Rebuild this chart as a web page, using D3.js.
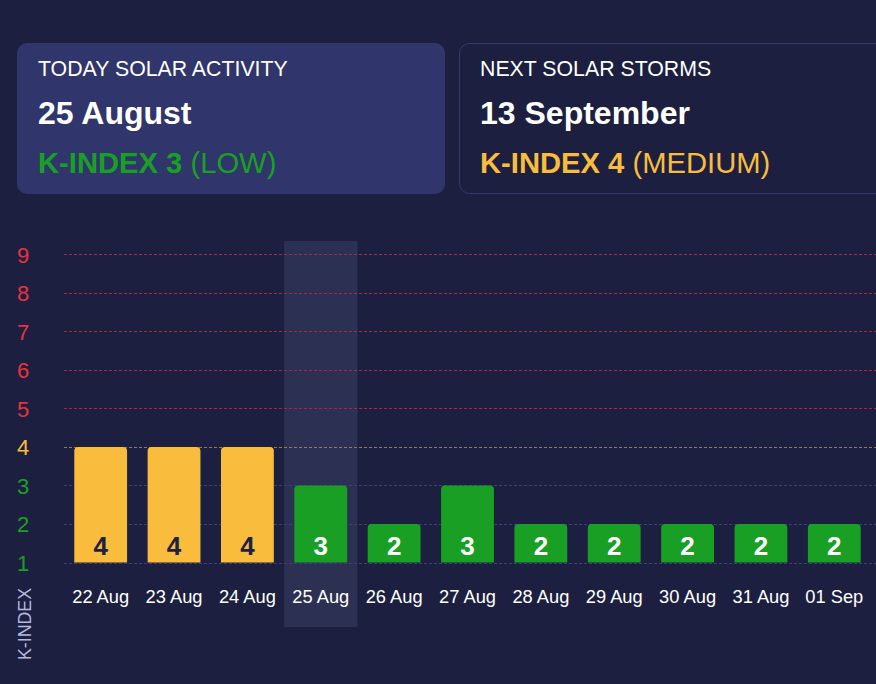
<!DOCTYPE html>
<html><head><meta charset="utf-8">
<script src="https://cdn.jsdelivr.net/npm/d3@7"></script>
<style>
html,body{margin:0;padding:0;background:#1c1f3f;}
svg{display:block;font-family:"Liberation Sans",Arial,Helvetica,sans-serif;}
</style></head>
<body>
<svg id="chart" width="876" height="684"></svg>
<script>
const categories = ["22 Aug","23 Aug","24 Aug","25 Aug","26 Aug","27 Aug","28 Aug","29 Aug","30 Aug","31 Aug","01 Sep"];
const kIndex = [4,4,4,3,2,3,2,2,2,2,2];
const yTicks = [1,2,3,4,5,6,7,8,9];
const highlighted = "25 Aug";
const cards = [
  {title:"TODAY SOLAR ACTIVITY", date:"25 August", k:3, level:"LOW"},
  {title:"NEXT SOLAR STORMS", date:"13 September", k:4, level:"MEDIUM"}
];

const GREEN = "#19a024", YELLOW = "#f9bc3d", RED = "#ea323e";
const colorFor = v => v >= 5 ? RED : (v >= 4 ? YELLOW : GREEN);
const gridColor = v => v >= 5 ? "#a32a46" : (v >= 4 ? "#8c7c5c" : "#3b4272");

const svg = d3.select("#chart");

// Cards
const cardPos = [{x:17,y:43,w:428,h:151,fill:"#30366b",stroke:"none"},
                 {x:459.5,y:43.5,w:440,h:150,fill:"none",stroke:"#343a6a"}];
cards.forEach((c,i)=>{
  const p = cardPos[i];
  const g = svg.append("g");
  g.append("rect").attr("x",p.x).attr("y",p.y).attr("width",p.w).attr("height",p.h)
    .attr("rx",10).attr("fill",p.fill).attr("stroke",p.stroke);
  const tx = p.x + (i===0?21:20.5);
  g.append("text").attr("x",tx).attr("y",76).attr("fill","#ffffff")
    .attr("font-size",21.3).text(c.title);
  g.append("text").attr("x",tx).attr("y",124).attr("fill","#ffffff")
    .attr("font-size",32).attr("font-weight","bold").text(c.date);
  const t = g.append("text").attr("x",tx).attr("y",172.5).attr("fill",colorFor(c.k)).attr("font-size",29.2);
  t.append("tspan").attr("font-weight","bold").text("K-INDEX " + c.k);
  t.append("tspan").text(" (" + c.level + ")");
});

// Scales
const x = d3.scaleBand().domain(categories).range([64,871]).paddingInner(0.28).paddingOuter(0.14);
const y = d3.scaleLinear().domain([1,9]).range([562.5,254.3]);

// highlight column
svg.append("rect")
  .attr("x", x(highlighted) + x.bandwidth()/2 - x.step()/2)
  .attr("width", x.step())
  .attr("y",241).attr("height",386)
  .attr("fill","#2c3154");

// grid lines
svg.append("g").selectAll("line").data(yTicks).join("line")
  .attr("x1",64).attr("x2",876)
  .attr("y1",d=>Math.round(y(d))+0.5).attr("y2",d=>Math.round(y(d))+0.5)
  .attr("stroke",d=>gridColor(d)).attr("stroke-width",1)
  .attr("stroke-dasharray","3,2");

// y axis via d3 axis
const yAxis = svg.append("g").attr("transform","translate(33,0)")
  .call(d3.axisLeft(y).tickValues(yTicks).tickSize(0).tickPadding(0).tickFormat(d3.format("d")));
yAxis.select(".domain").remove();
yAxis.selectAll("text")
  .attr("text-anchor","middle").attr("x",-10).attr("dy","0.36em")
  .attr("font-size",22).attr("font-family","Liberation Sans, Arial, sans-serif")
  .attr("fill",d=>colorFor(d));

// bars with rounded top corners
const r = 4;
const barPath = (x0,y0,w,h) => `M${x0},${y0+h}V${y0+r}Q${x0},${y0} ${x0+r},${y0}H${x0+w-r}Q${x0+w},${y0} ${x0+w},${y0+r}V${y0+h}Z`;
const data = categories.map((c,i)=>({c, v:kIndex[i]}));
svg.append("g").selectAll("path").data(data).join("path")
  .attr("d",d=>barPath(x(d.c), y(d.v), x.bandwidth(), y(1)-y(d.v)))
  .attr("fill",d=>colorFor(d.v));

svg.append("g").selectAll("text").data(data).join("text")
  .attr("x",d=>x(d.c)+x.bandwidth()/2).attr("y",555)
  .attr("text-anchor","middle").attr("font-size",26).attr("font-weight","bold")
  .attr("fill",d=>d.v>=4?"#1e2142":"#ffffff")
  .text(d=>d.v);

// x axis
const xAxis = svg.append("g").attr("transform","translate(0,589)")
  .call(d3.axisBottom(x).tickSize(0).tickPadding(0));
xAxis.select(".domain").remove();
xAxis.selectAll("text").attr("dy","0.71em").attr("y",1)
  .attr("font-size",18.3).attr("font-family","Liberation Sans, Arial, sans-serif")
  .attr("fill","#ffffff");

// y axis title
svg.append("text").attr("transform","translate(30.5,624) rotate(-90)")
  .attr("text-anchor","middle").attr("font-size",17.8).attr("fill","#b4b8de")
  .text("K-INDEX");
</script>
</body></html>
